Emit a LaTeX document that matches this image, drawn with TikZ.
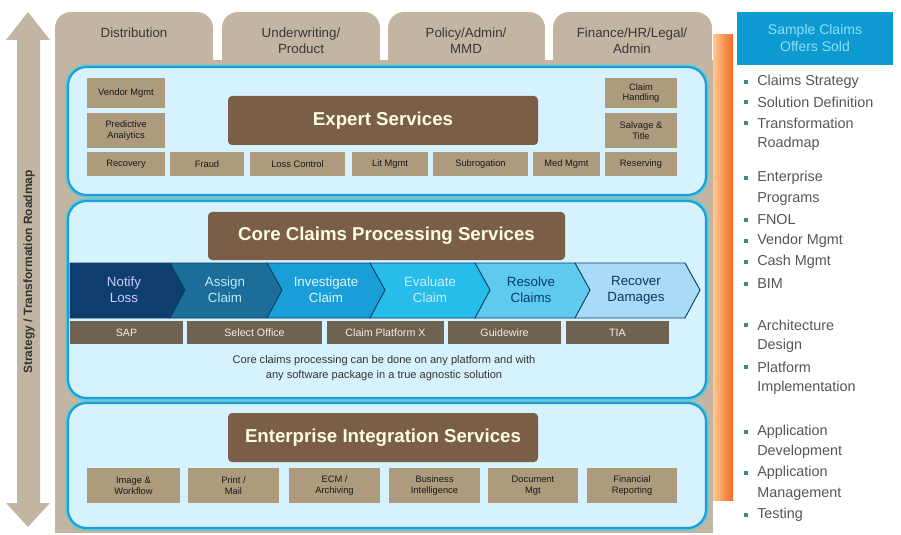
\documentclass[tikz,border=0pt]{standalone}
\usepackage{fontspec}
\setmainfont{Liberation Sans}
\definecolor{tanbg}{HTML}{C2B6A2}
\definecolor{boxol}{HTML}{AE9A7C}
\definecolor{brownt}{HTML}{7B5E48}
\definecolor{barbr}{HTML}{6E6350}
\definecolor{panelfill}{HTML}{D6F2FF}
\definecolor{panelline}{HTML}{1E9ED6}
\definecolor{panelouter}{HTML}{64C8D6}
\definecolor{chA}{HTML}{0D3E6E}
\definecolor{chB}{HTML}{1C6E98}
\definecolor{chC}{HTML}{1A9ED8}
\definecolor{chD}{HTML}{26BDEB}
\definecolor{chE}{HTML}{5FCAEE}
\definecolor{chF}{HTML}{A8DBF5}
\definecolor{chline}{HTML}{0B3D6B}
\definecolor{hdrblue}{HTML}{0C9AD0}
\definecolor{hdrtext}{HTML}{8EE0F5}
\definecolor{bultxt}{HTML}{555555}
\definecolor{bulsq}{HTML}{3A8A90}
\definecolor{orA}{HTML}{FFC890}
\definecolor{orB}{HTML}{F06A20}
\newcommand{\rbox}[7]{\path[#1] (#2,#3) rectangle (#4,#5);
  \node[#1 txt] (#6) at ({(#2+#4)/2},{(#3+#5)/2}) {#7};}
\tikzset{
  smallbox/.style={fill=boxol},
  smallbox txt/.style={font=\fontsize{7}{8}\selectfont, text=black!90, align=center, inner sep=0pt},
  brownbox/.style={fill=brownt, rounded corners=3},
  brownbox txt/.style={font=\fontsize{14}{16}\selectfont\bfseries, text=white!88!yellow, inner sep=0pt},
  platbar/.style={fill=barbr},
  platbar txt/.style={font=\fontsize{8}{9}\selectfont, text=white!85!brown, inner sep=0pt},
  panelbase/.style={draw=panelouter, line width=4pt, rounded corners=14},
  panel/.style={fill=panelfill, draw=panelline, line width=1.6pt, rounded corners=14},
  tabtxt/.style={font=\fontsize{10}{12}\selectfont, text=black!78, align=center, inner sep=0pt},
  chev/.style={draw=chline, line width=0.7pt},
  chevtxt/.style={font=\fontsize{10}{12}\selectfont, align=center, inner sep=0pt},
  bul/.style={font=\fontsize{10.8}{12}\selectfont, text=bultxt, anchor=west, inner sep=0pt},
  sq/.style={fill=bulsq, inner sep=0pt, minimum size=3pt},
}
\begin{document}
\begin{tikzpicture}[x=0.75pt,y=-0.75pt]
\useasboundingbox (0,0) rectangle (901,535);
% left double arrow
\fill[tanbg] (28,12) -- (50,40) -- (40,40) -- (40,503) -- (50,503) -- (28,527)
  -- (6,503) -- (17,503) -- (17,40) -- (6,40) -- cycle;
\node[rotate=90, font=\fontsize{9}{10}\selectfont\bfseries, text=black!80, inner sep=0pt] (lefttxt) at (29,272) {Strategy / Transformation Roadmap};
% tan background with tabs
\fill[tanbg] (55,60) rectangle (713,533);
\foreach \a/\b in {55/213, 222/380, 388/545, 553/712}{
  \fill[tanbg, rounded corners=12] (\a,12) rectangle (\b,45);
  \fill[tanbg] (\a,30) rectangle (\b,70);
}
\node[tabtxt] (tabA) at (134,33) {Distribution};
\node[tabtxt] (tabB) at (301,41) {Underwriting/\\Product};
\node[tabtxt] (tabC) at (466,41) {Policy/Admin/\\MMD};
\node[tabtxt] (tabD) at (632,41) {Finance/HR/Legal/\\Admin};
% orange strip
\shade[left color=orA, right color=orB] (713,35) rectangle (733,500);
% panels
\path[panelbase] (68,67) rectangle (706,195);
\path[panelbase] (68,201) rectangle (706,398);
\path[panelbase] (68,403) rectangle (706,528);
\path[panel] (68,67) rectangle (706,195);
\path[panel] (68,201) rectangle (706,398);
\path[panel] (68,403) rectangle (706,528);
% expert services
\rbox{brownbox}{228}{96}{538}{145}{expert}{Expert Services}
\rbox{smallbox}{87}{78}{165}{108}{vend}{Vendor Mgmt}
\rbox{smallbox}{87}{113}{165}{148}{pred}{Predictive\\Analytics}
\rbox{smallbox}{605}{78}{677}{108}{claimh}{Claim\\Handling}
\rbox{smallbox}{605}{113}{677}{148}{salv}{Salvage \&\\Title}
\rbox{smallbox}{87}{152}{165}{176}{recov}{Recovery}
\rbox{smallbox}{170}{152}{244}{176}{fraud}{Fraud}
\rbox{smallbox}{250}{152}{345}{176}{lossc}{Loss Control}
\rbox{smallbox}{352}{152}{428}{176}{litm}{Lit Mgmt}
\rbox{smallbox}{433}{152}{528}{176}{subro}{Subrogation}
\rbox{smallbox}{533}{152}{600}{176}{medm}{Med Mgmt}
\rbox{smallbox}{605}{152}{677}{176}{reserv}{Reserving}
% core claims
\rbox{brownbox}{208}{212}{565}{260}{core}{Core Claims Processing Services}
\fill[chF, chev] (575,263) -- (685,263) -- (700,290) -- (685,318) -- (575,318) -- cycle;
\fill[chE, chev] (475,263) -- (575,263) -- (590,290) -- (575,318) -- (475,318) -- cycle;
\fill[chD, chev] (370,263) -- (475,263) -- (490,290) -- (475,318) -- (370,318) -- cycle;
\fill[chC, chev] (267,263) -- (370,263) -- (385,290) -- (370,318) -- (267,318) -- cycle;
\fill[chB, chev] (170,263) -- (267,263) -- (282,290) -- (267,318) -- (170,318) -- cycle;
\fill[chA, chev] (70,263) -- (170,263) -- (185,290) -- (170,318) -- (70,318) -- cycle;
\node[chevtxt, text=white!80!blue] (notify) at (124,290) {Notify\\Loss};
\node[chevtxt, text=white!75!cyan] (assign) at (225,290) {Assign\\Claim};
\node[chevtxt, text=white!88!cyan] (invest) at (326,290) {Investigate\\Claim};
\node[chevtxt, text=white!80!cyan] (evalc) at (430,290) {Evaluate\\Claim};
\node[chevtxt, text=chline] (resolve) at (531,290) {Resolve\\Claims};
\node[chevtxt, text=chline!90!black] (recover) at (636,290) {Recover\\Damages};
\rbox{platbar}{70}{321}{183}{344}{sap}{SAP}
\rbox{platbar}{187}{321}{322}{344}{selo}{Select Office}
\rbox{platbar}{327}{321}{444}{344}{cplat}{Claim Platform X}
\rbox{platbar}{448}{321}{561}{344}{guide}{Guidewire}
\rbox{platbar}{566}{321}{669}{344}{tia}{TIA}
\node[font=\fontsize{8.3}{11}\selectfont, text=black!80, align=center, inner sep=0pt] (stmt) at (384,368)
  {Core claims processing can be done on any platform and with\\any software package in a true agnostic solution};
% enterprise integration
\rbox{brownbox}{228}{413}{538}{462}{eis}{Enterprise Integration Services}
\rbox{smallbox}{87}{468}{180}{503}{imgw}{Image \&\\Workflow}
\rbox{smallbox}{188}{468}{279}{503}{prm}{Print /\\Mail}
\rbox{smallbox}{289}{468}{380}{503}{ecm}{ECM /\\Archiving}
\rbox{smallbox}{389}{468}{480}{503}{bint}{Business\\Intelligence}
\rbox{smallbox}{488}{468}{578}{503}{docm}{Document\\Mgt}
\rbox{smallbox}{587}{468}{677}{503}{finr}{Financial\\Reporting}
% right column
\fill[hdrblue] (737,12) rectangle (893,65);
\node[font=\fontsize{10.5}{13}\selectfont, text=hdrtext, align=center, inner sep=0pt] (hdr) at (815,38) {Sample Claims\\Offers Sold};
\foreach \y/\t/\b [count=\i] in {
  82/Claims Strategy/1, 102/Solution Definition/1, 123/Transformation/1, 144/Roadmap/0,
  178/Enterprise/1, 199/Programs/0, 220/FNOL/1, 241/Vendor Mgmt/1, 262/Cash Mgmt/1, 284/BIM/1,
  325/Architecture/1, 346/Design/0, 367/Platform/1, 388/Implementation/0,
  432/Application/1, 452/Development/0, 473/Application/1, 494/Management/0, 515/Testing/1}{
  \node[bul] (b\i) at (757,\y) {\t};
  \ifnum\b=1 \node[sq] (s\i) at (746,\y) {}; \fi
}
\end{tikzpicture}
\end{document}
